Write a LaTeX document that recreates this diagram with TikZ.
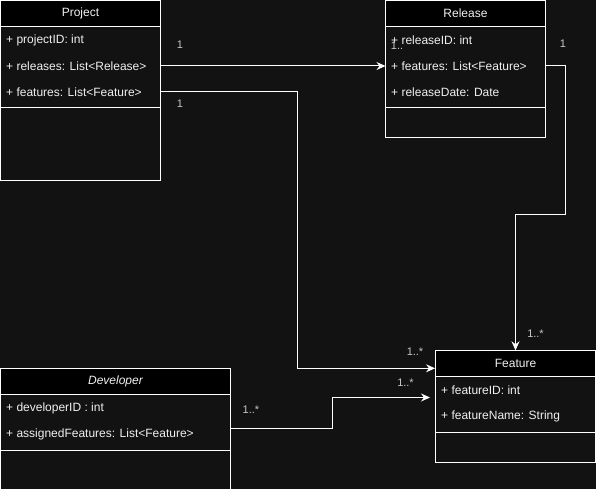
\documentclass[tikz,border=0pt]{standalone}
\usepackage{fontspec}
\setmainfont{Liberation Sans}
\usetikzlibrary{arrows.meta}
\definecolor{bg}{HTML}{121212}
\definecolor{fg}{HTML}{F0F0F0}
\definecolor{lbl}{HTML}{C8C8C8}
\tikzset{
  classbox/.style={draw=white, fill=bg, line width=1pt, inner sep=0pt, outer sep=0pt},
  headbox/.style={draw=white, fill=black, line width=1pt, inner sep=0pt, outer sep=0pt,
    text=fg, font=\fontsize{12}{14}\selectfont},
  divider/.style={draw=white, line width=1pt},
  attr/.style={anchor=west, inner sep=0pt, text=fg, font=\fontsize{12}{14}\selectfont},
  mult/.style={inner sep=0pt, text=lbl, font=\fontsize{11}{13}\selectfont},
  conn/.style={draw=white, line width=1pt, -{Stealth[length=9pt,width=8pt,inset=3pt]}},
}
\begin{document}
\begin{tikzpicture}[x=1pt,y=-1pt]
\fill[bg] (0,0) rectangle (596,489);
\useasboundingbox (0,0) rectangle (596,489);

% Project
\node[classbox, minimum width=160, minimum height=180] (project) at (80.5,90.5) {};
\node[headbox, minimum width=160, minimum height=26] (projectT) at (80.5,13.5) {Project};
\draw[divider] (0.5,108) -- (160.5,108);
\node[attr] (pid) at (6,40) {+ projectID: int};
\node[attr] (prel) at (6,66) {+ releases: List<Release>};
\node[attr] (pfeat) at (6,92) {+ features: List<Feature>};

% Release
\node[classbox, minimum width=160, minimum height=137] (release) at (465.5,69) {};
\node[headbox, minimum width=160, minimum height=26] (releaseT) at (465.5,13.5) {Release};
\draw[divider] (385.5,108) -- (545.5,108);
\node[attr] (rid) at (391,40) {+ releaseID: int};
\node[attr] (rfeat) at (391,66) {+ features: List<Feature>};
\node[attr] (rdate) at (391,92) {+ releaseDate: Date};

% Feature
\node[classbox, minimum width=160, minimum height=112] (feature) at (515.5,406.3) {};
\node[headbox, minimum width=160, minimum height=26] (featureT) at (515.5,363.3) {Feature};
\draw[divider] (435.5,432.3) -- (595.5,432.3);
\node[attr] (fid) at (441,390) {+ featureID: int};
\node[attr] (fname) at (441,416) {+ featureName: String};

% Developer
\node[classbox, minimum width=230, minimum height=121] (developer) at (115.5,429) {};
\node[headbox, minimum width=230, minimum height=26, font=\fontsize{12}{14}\selectfont\itshape] (developerT) at (115.5,381.3) {Developer};
\draw[divider] (0.5,450) -- (230.5,450);
\node[attr] (did) at (6,408) {+ developerID : int};
\node[attr] (dassign) at (6,434) {+ assignedFeatures: List<Feature>};

% connector anchor points
\coordinate (pOut1) at (project.east |- prel);
\coordinate (rIn) at (release.west |- prel);
\coordinate (pOut2) at (project.east |- pfeat);
\coordinate (fIn1) at (435,368.3);
\coordinate (rOut) at (release.east |- rfeat);
\coordinate (fTop) at (515.5,350.3);
\coordinate (dOut) at (230.5,428.3);
\coordinate (fIn2) at (430,397.5);

\draw[conn] (pOut1) -- (rIn);
\draw[conn] (pOut2) -- (297.7,92) -- (297.7,368.3) -- (fIn1);
\draw[conn] (rOut) -- (565.7,66) -- (565.7,214.3) -- (515.5,214.3) -- (fTop);
\draw[conn] (dOut) -- (332.7,428.3) -- (332.7,397.5) -- (fIn2);

% multiplicities
\node[mult] (m1) at (180,45) {1};
\node[mult] (m2) at (397,46) {1..};
\node[mult] (m3) at (180,104) {1};
\node[mult] (m4) at (415,352) {1..*};
\node[mult] (m5) at (563,44) {1};
\node[mult] (m6) at (535.5,334) {1..*};
\node[mult] (m7) at (251,410) {1..*};
\node[mult] (m8) at (405.5,383) {1..*};
\end{tikzpicture}
\end{document}
